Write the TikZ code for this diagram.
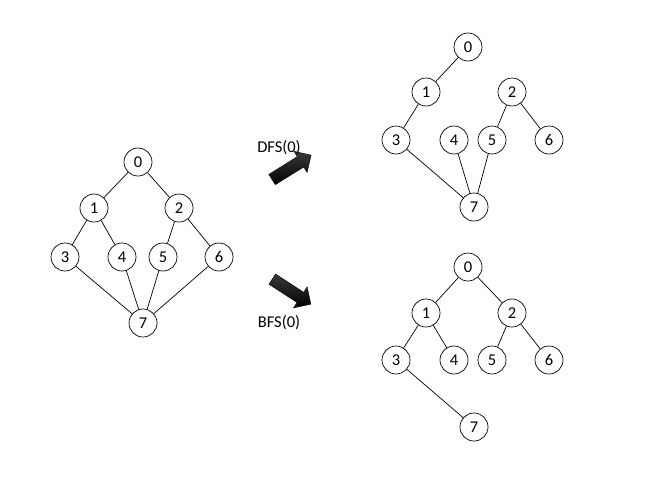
\documentclass[tikz,border=0pt]{standalone}
\usepackage{fontspec}
\setmainfont{Carlito}
\usetikzlibrary{shapes.arrows}

\begin{document}
\begin{tikzpicture}[x=1pt,y=-1pt,font=\fontsize{16.5}{19}\selectfont,
  vtx/.style={circle,draw,line width=0.7pt,minimum size=28pt,inner sep=0pt},
  bigarrow/.style={single arrow,draw=black,top color=gray!45!black,bottom color=black,
    minimum height=46pt,minimum width=25pt,inner sep=5.5pt,single arrow head extend=6pt}]
\useasboundingbox (0,0) rectangle (653,498);
% original graph
\foreach \n/\x/\y in {0/138/162,1/94/208,2/179/208,3/65/257,4/122/257,5/163/257,6/219/257,7/143/323}
  \node[vtx] (g\n) at (\x,\y) {\n};
\foreach \a/\b in {0/1,0/2,1/3,1/4,2/5,2/6,3/7,4/7,5/7,6/7}
  \draw[line width=0.7pt] (g\a)--(g\b);
% dfs tree
\foreach \n/\x/\y in {0/468/47,1/426/92,2/512/92,3/396/140,4/454/140,5/492/140,6/549/140,7/474/207}
  \node[vtx] (d\n) at (\x,\y) {\n};
\foreach \a/\b in {0/1,1/3,3/7,4/7,5/7,2/5,2/6}
  \draw[line width=0.7pt] (d\a)--(d\b);
% bfs tree
\foreach \n/\x/\y in {0/468/267,1/426/313,2/512/313,3/396/360,4/454/360,5/492/360,6/549/360,7/474/427}
  \node[vtx] (b\n) at (\x,\y) {\n};
\foreach \a/\b in {0/1,0/2,1/3,1/4,2/5,2/6,3/7}
  \draw[line width=0.7pt] (b\a)--(b\b);
% arrows and labels
\node[bigarrow,rotate=32] (dfsarr) at (289,169) {};
\node[bigarrow,rotate=-33] (bfsarr) at (289,290) {};
\node (dfs) at (279,148) {DFS(0)};
\node (bfs) at (279,323) {BFS(0)};
\end{tikzpicture}
\end{document}
